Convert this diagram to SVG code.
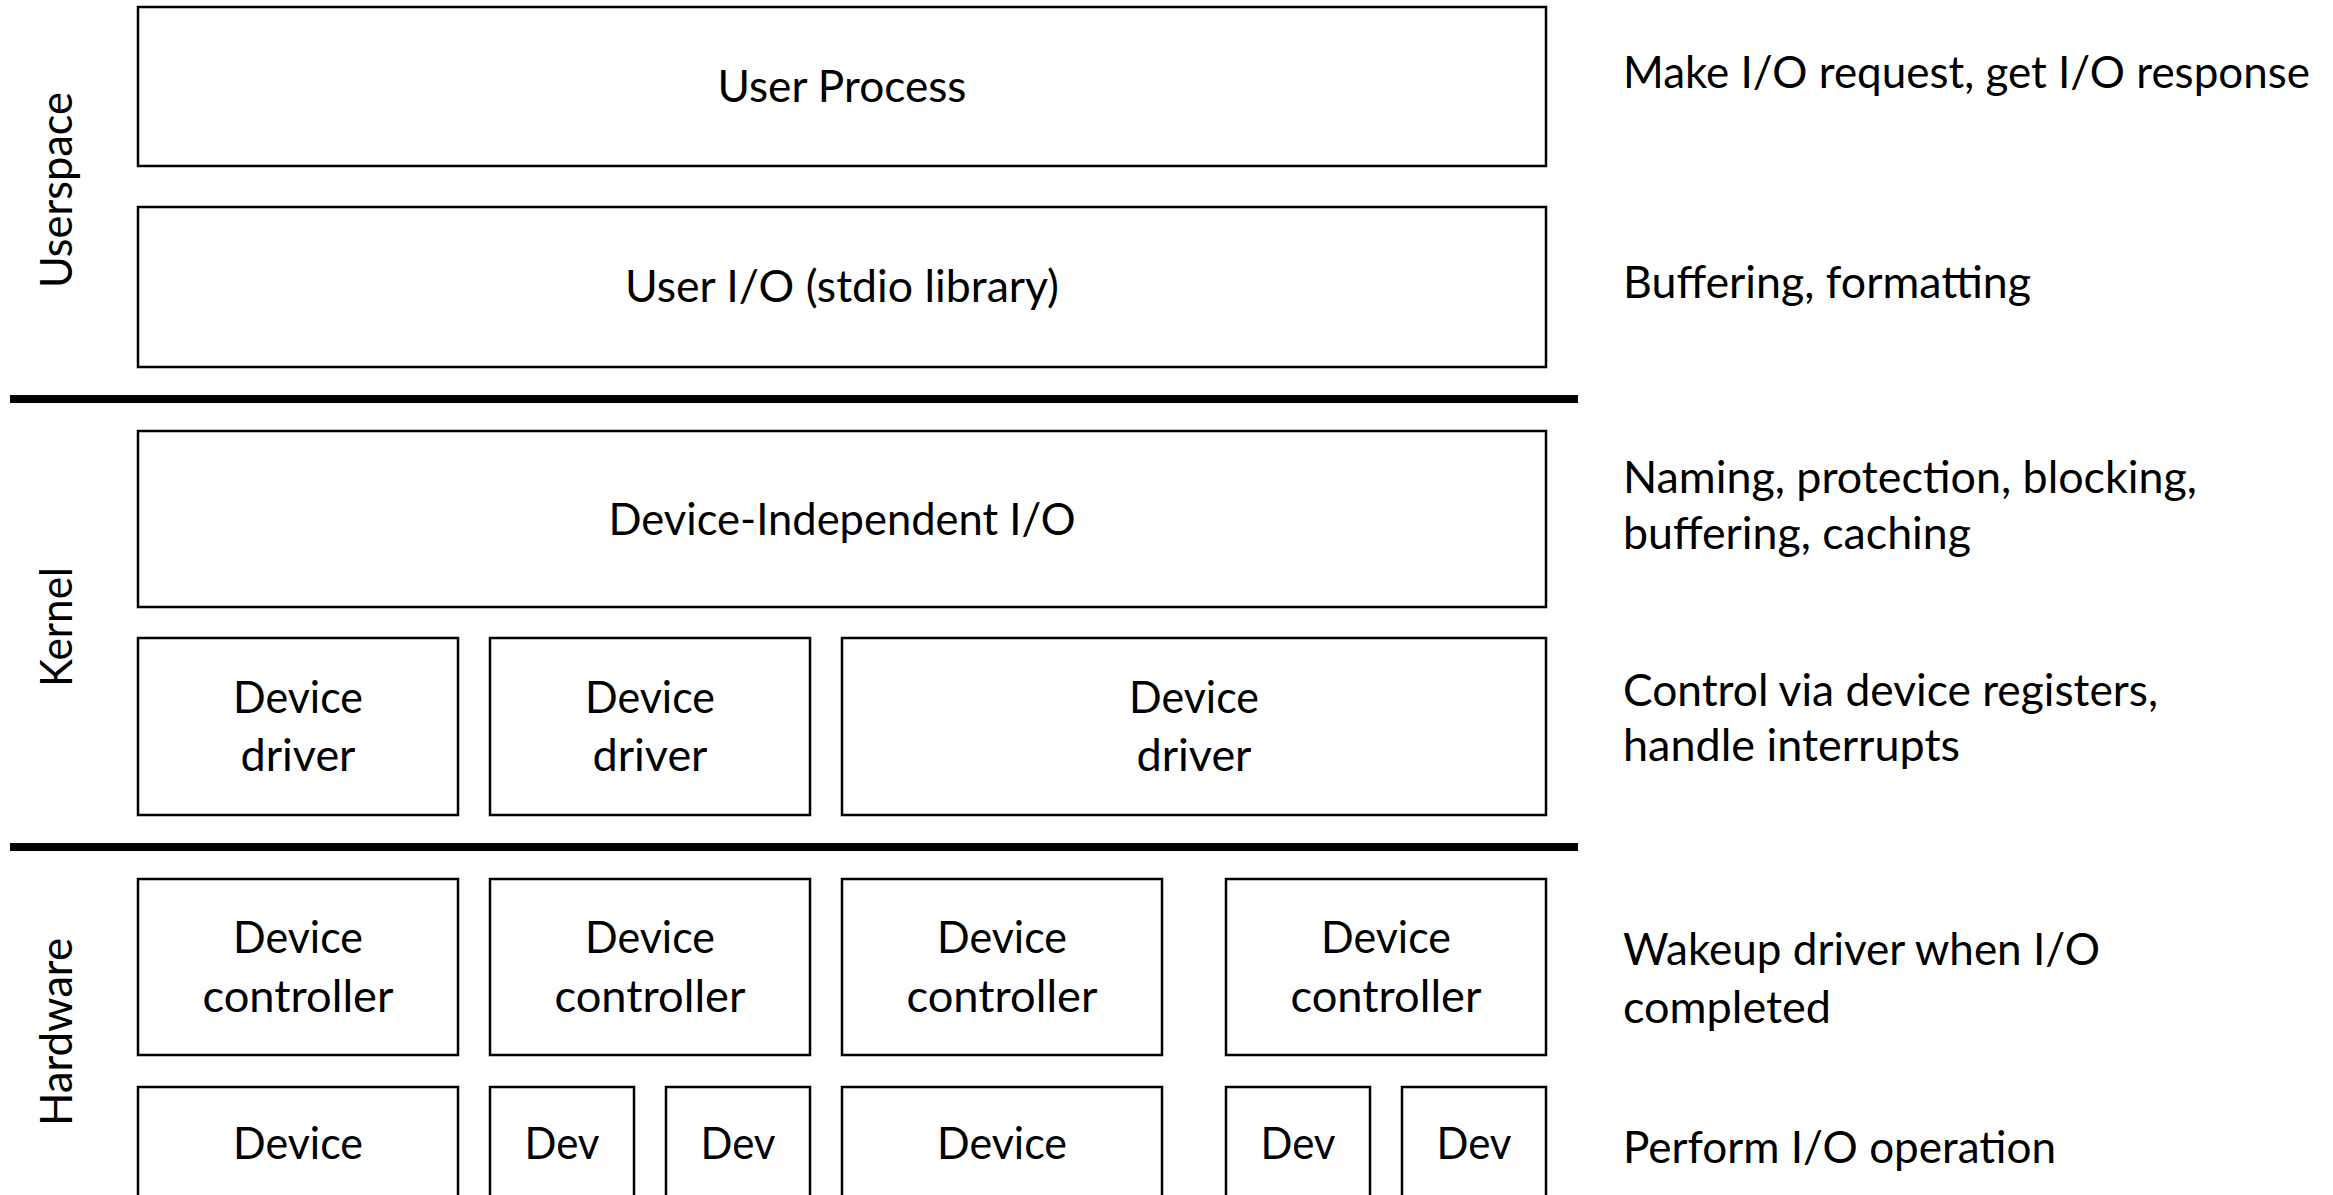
<svg xmlns="http://www.w3.org/2000/svg" width="2333" height="1195" viewBox="0 0 2333 1195">
<style>
  .box { fill: #ffffff; stroke: #000000; stroke-width: 2.5; }
  .sep { stroke: #000000; stroke-width: 8; }
  text { font-family: Lato, "Open Sans", "Liberation Sans", sans-serif; font-size: 45px; fill: #000000; }
  .c { text-anchor: middle; }
  .l { text-anchor: start; }
</style>
<rect width="2333" height="1195" fill="#ffffff"/>

<g id="separators">
  <line class="sep" x1="10" y1="399" x2="1578" y2="399"/>
  <line class="sep" x1="10" y1="847" x2="1578" y2="847"/>
</g>

<g id="layer-labels">
  <text class="c" transform="translate(72,190) rotate(-90)" textLength="196" lengthAdjust="spacingAndGlyphs">Userspace</text>
  <text class="c" transform="translate(72,627) rotate(-90)" textLength="120" lengthAdjust="spacingAndGlyphs">Kernel</text>
  <text class="c" transform="translate(72,1032) rotate(-90)" textLength="188" lengthAdjust="spacingAndGlyphs">Hardware</text>
</g>

<g id="user-process">
  <rect class="box" x="138" y="7" width="1408" height="159"/>
  <text class="c" x="842" y="102" textLength="249" lengthAdjust="spacingAndGlyphs">User Process</text>
</g>
<g id="user-io">
  <rect class="box" x="138" y="207" width="1408" height="160"/>
  <text class="c" x="842" y="302" textLength="434" lengthAdjust="spacingAndGlyphs">User I/O (stdio library)</text>
</g>
<g id="device-independent-io">
  <rect class="box" x="138" y="431" width="1408" height="176"/>
  <text class="c" x="842" y="535" textLength="467" lengthAdjust="spacingAndGlyphs">Device-Independent I/O</text>
</g>

<g id="driver-1">
  <rect class="box" x="138" y="638" width="320" height="177"/>
  <text class="c" x="298" y="713" textLength="130" lengthAdjust="spacingAndGlyphs">Device</text>
  <text class="c" x="298" y="771" textLength="115" lengthAdjust="spacingAndGlyphs">driver</text>
</g>
<g id="driver-2">
  <rect class="box" x="490" y="638" width="320" height="177"/>
  <text class="c" x="650" y="713" textLength="130" lengthAdjust="spacingAndGlyphs">Device</text>
  <text class="c" x="650" y="771" textLength="115" lengthAdjust="spacingAndGlyphs">driver</text>
</g>
<g id="driver-3">
  <rect class="box" x="842" y="638" width="704" height="177"/>
  <text class="c" x="1194" y="713" textLength="130" lengthAdjust="spacingAndGlyphs">Device</text>
  <text class="c" x="1194" y="771" textLength="115" lengthAdjust="spacingAndGlyphs">driver</text>
</g>

<g id="controller-1">
  <rect class="box" x="138" y="879" width="320" height="176"/>
  <text class="c" x="298" y="953" textLength="130" lengthAdjust="spacingAndGlyphs">Device</text>
  <text class="c" x="298" y="1012" textLength="191" lengthAdjust="spacingAndGlyphs">controller</text>
</g>
<g id="controller-2">
  <rect class="box" x="490" y="879" width="320" height="176"/>
  <text class="c" x="650" y="953" textLength="130" lengthAdjust="spacingAndGlyphs">Device</text>
  <text class="c" x="650" y="1012" textLength="191" lengthAdjust="spacingAndGlyphs">controller</text>
</g>
<g id="controller-3">
  <rect class="box" x="842" y="879" width="320" height="176"/>
  <text class="c" x="1002" y="953" textLength="130" lengthAdjust="spacingAndGlyphs">Device</text>
  <text class="c" x="1002" y="1012" textLength="191" lengthAdjust="spacingAndGlyphs">controller</text>
</g>
<g id="controller-4">
  <rect class="box" x="1226" y="879" width="320" height="176"/>
  <text class="c" x="1386" y="953" textLength="130" lengthAdjust="spacingAndGlyphs">Device</text>
  <text class="c" x="1386" y="1012" textLength="191" lengthAdjust="spacingAndGlyphs">controller</text>
</g>

<g id="device-1">
  <rect class="box" x="138" y="1087" width="320" height="130"/>
  <text class="c" x="298" y="1159" textLength="130" lengthAdjust="spacingAndGlyphs">Device</text>
</g>
<g id="dev-2">
  <rect class="box" x="490" y="1087" width="144" height="130"/>
  <text class="c" x="562" y="1159" textLength="75" lengthAdjust="spacingAndGlyphs">Dev</text>
</g>
<g id="dev-3">
  <rect class="box" x="666" y="1087" width="144" height="130"/>
  <text class="c" x="738" y="1159" textLength="75" lengthAdjust="spacingAndGlyphs">Dev</text>
</g>
<g id="device-4">
  <rect class="box" x="842" y="1087" width="320" height="130"/>
  <text class="c" x="1002" y="1159" textLength="130" lengthAdjust="spacingAndGlyphs">Device</text>
</g>
<g id="dev-5">
  <rect class="box" x="1226" y="1087" width="144" height="130"/>
  <text class="c" x="1298" y="1159" textLength="75" lengthAdjust="spacingAndGlyphs">Dev</text>
</g>
<g id="dev-6">
  <rect class="box" x="1402" y="1087" width="144" height="130"/>
  <text class="c" x="1474" y="1159" textLength="75" lengthAdjust="spacingAndGlyphs">Dev</text>
</g>

<g id="descriptions">
  <text class="l" x="1623" y="88" textLength="687" lengthAdjust="spacingAndGlyphs">Make I/O request, get I/O response</text>
  <text class="l" x="1623" y="298" textLength="408" lengthAdjust="spacingAndGlyphs">Buffering, formatting</text>
  <text class="l" x="1623" y="493" textLength="574" lengthAdjust="spacingAndGlyphs">Naming, protection, blocking,</text>
  <text class="l" x="1623" y="549" textLength="348" lengthAdjust="spacingAndGlyphs">buffering, caching</text>
  <text class="l" x="1623" y="706" textLength="535" lengthAdjust="spacingAndGlyphs">Control via device registers,</text>
  <text class="l" x="1623" y="761" textLength="337" lengthAdjust="spacingAndGlyphs">handle interrupts</text>
  <text class="l" x="1623" y="965" textLength="477" lengthAdjust="spacingAndGlyphs">Wakeup driver when I/O</text>
  <text class="l" x="1623" y="1023" textLength="208" lengthAdjust="spacingAndGlyphs">completed</text>
  <text class="l" x="1623" y="1163" textLength="433" lengthAdjust="spacingAndGlyphs">Perform I/O operation</text>
</g>
</svg>
